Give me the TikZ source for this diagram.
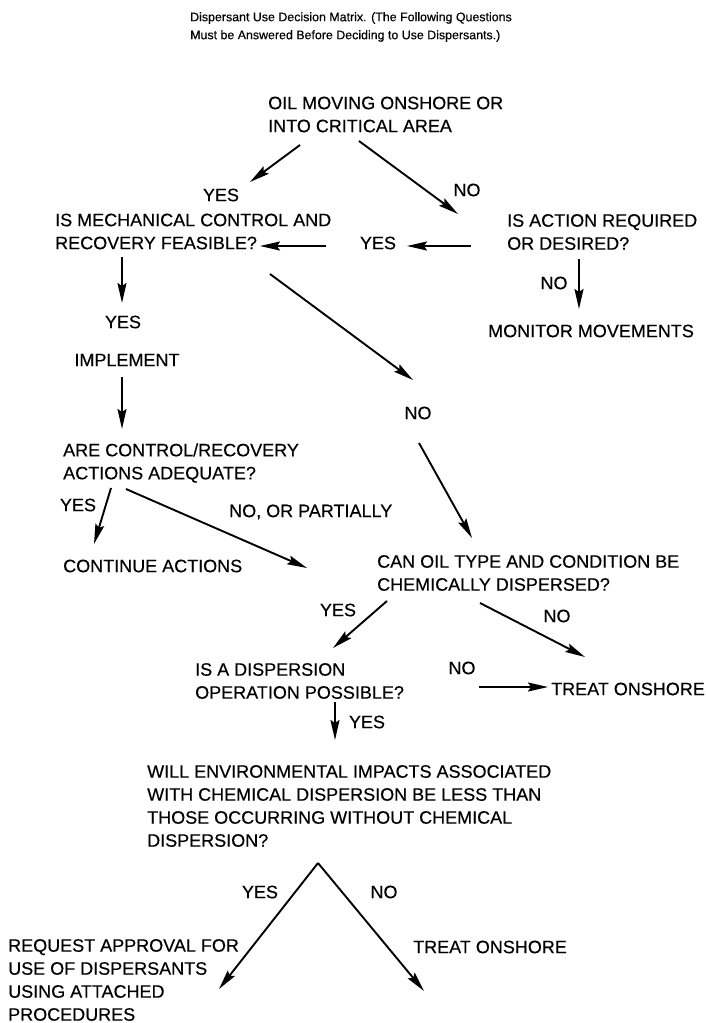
\documentclass[tikz,border=0pt]{standalone}
\usepackage{fontspec}
\setmainfont{Liberation Sans}
\newfontfamily\lblfont{Liberation Sans}[FakeBold=0.35]
\usetikzlibrary{arrows.meta}
\begin{document}
\begin{tikzpicture}[x=1pt,y=-1pt,
  every node/.style={inner sep=0pt},
  lbl/.style={font=\lblfont\fontsize{18}{23}\selectfont, align=left},
  ttl/.style={font=\lblfont\fontsize{12.4}{18}\selectfont, align=left},
  arr/.style={line width=1.9pt, -{Stealth[length=20pt,width=9pt,inset=3pt]}}]
\useasboundingbox[fill=white] (0,0) rectangle (706,1023);
% title
\node[ttl,anchor=west] (title) at (190,27) {Dispersant Use Decision Matrix. (The Following Questions\\Must be Answered Before Deciding to Use Dispersants.)};
% nodes
\node[lbl,anchor=west] (oil) at (268,114.5) {OIL MOVING ONSHORE OR\\INTO CRITICAL AREA};
\node[lbl] (yes1) at (221,195) {YES};
\node[lbl] (no1) at (467,190) {NO};
\node[lbl,anchor=west] (mech) at (55,231.5) {IS MECHANICAL CONTROL AND\\RECOVERY FEASIBLE?};
\node[lbl,anchor=west] (action) at (507,232) {IS ACTION REQUIRED\\OR DESIRED?};
\node[lbl] (yes2) at (378,243) {YES};
\node[lbl] (yes3) at (123,322) {YES};
\node[lbl] (no2) at (554,283) {NO};
\node[lbl,anchor=west] (monitor) at (488,331) {MONITOR MOVEMENTS};
\node[lbl] (impl) at (127,360) {IMPLEMENT};
\node[lbl] (no3) at (418,413) {NO};
\node[lbl,anchor=west] (adeq) at (63,463) {ARE CONTROL/RECOVERY\\ACTIONS ADEQUATE?};
\node[lbl] (yes4) at (78,505) {YES};
\node[lbl,anchor=west] (nopart) at (229,512) {NO, OR PARTIALLY};
\node[lbl,anchor=west] (cont) at (63,566) {CONTINUE ACTIONS};
\node[lbl,anchor=west] (can) at (377,573) {CAN OIL TYPE AND CONDITION BE\\CHEMICALLY DISPERSED?};
\node[lbl] (yes5) at (338,610) {YES};
\node[lbl] (no4) at (557,616) {NO};
\node[lbl,anchor=west] (disp) at (195,681) {IS A DISPERSION\\OPERATION POSSIBLE?};
\node[lbl] (no5) at (462,668) {NO};
\node[lbl,anchor=west] (treat1) at (551,689) {TREAT ONSHORE};
\node[lbl] (yes6) at (367,722) {YES};
\node[lbl,anchor=west] (env) at (147,806) {WILL ENVIRONMENTAL IMPACTS ASSOCIATED\\WITH CHEMICAL DISPERSION BE LESS THAN\\THOSE OCCURRING WITHOUT CHEMICAL\\DISPERSION?};
\node[lbl] (yes7) at (260,892) {YES};
\node[lbl] (no7) at (384,892) {NO};
\node[lbl,anchor=west] (request) at (8,980) {REQUEST APPROVAL FOR\\USE OF DISPERSANTS\\USING ATTACHED\\PROCEDURES};
\node[lbl,anchor=west] (treat2) at (413,947) {TREAT ONSHORE};
% connector end points
\coordinate (a1s) at (300,145); \coordinate (a1e) at (250,182);
\coordinate (a2s) at (359,141); \coordinate (a2e) at (458,214);
\coordinate (a3s) at (471,246); \coordinate (a3e) at (407,246);
\coordinate (a4s) at (326,246); \coordinate (a4e) at (260,246);
\coordinate (a5s) at (122,257); \coordinate (a5e) at (122,303);
\coordinate (a6s) at (270,274); \coordinate (a6e) at (413,380);
\coordinate (a7s) at (579,259); \coordinate (a7e) at (579,309);
\coordinate (a8s) at (122,377); \coordinate (a8e) at (122,429);
\coordinate (a9s) at (419,443); \coordinate (a9e) at (472,538);
\coordinate (a10s) at (111,488); \coordinate (a10e) at (94,544);
\coordinate (a11s) at (126,489); \coordinate (a11e) at (307,568);
\coordinate (a12s) at (387,601); \coordinate (a12e) at (333,648);
\coordinate (a13s) at (480,603); \coordinate (a13e) at (585,657);
\coordinate (a14s) at (479,687); \coordinate (a14e) at (548,687);
\coordinate (a15s) at (335,702); \coordinate (a15e) at (335,740);
\coordinate (apex) at (318,863);
\coordinate (a16e) at (219,989);
\coordinate (a17e) at (424,991);
% connectors
\draw[arr] (a1s) -- (a1e);
\draw[arr] (a2s) -- (a2e);
\draw[arr] (a3s) -- (a3e);
\draw[arr] (a4s) -- (a4e);
\draw[arr] (a5s) -- (a5e);
\draw[arr] (a6s) -- (a6e);
\draw[arr] (a7s) -- (a7e);
\draw[arr] (a8s) -- (a8e);
\draw[arr] (a9s) -- (a9e);
\draw[arr] (a10s) -- (a10e);
\draw[arr] (a11s) -- (a11e);
\draw[arr] (a12s) -- (a12e);
\draw[arr] (a13s) -- (a13e);
\draw[arr] (a14s) -- (a14e);
\draw[arr] (a15s) -- (a15e);
\draw[arr] (apex) -- (a16e);
\draw[arr] (apex) -- (a17e);
\end{tikzpicture}
\end{document}
